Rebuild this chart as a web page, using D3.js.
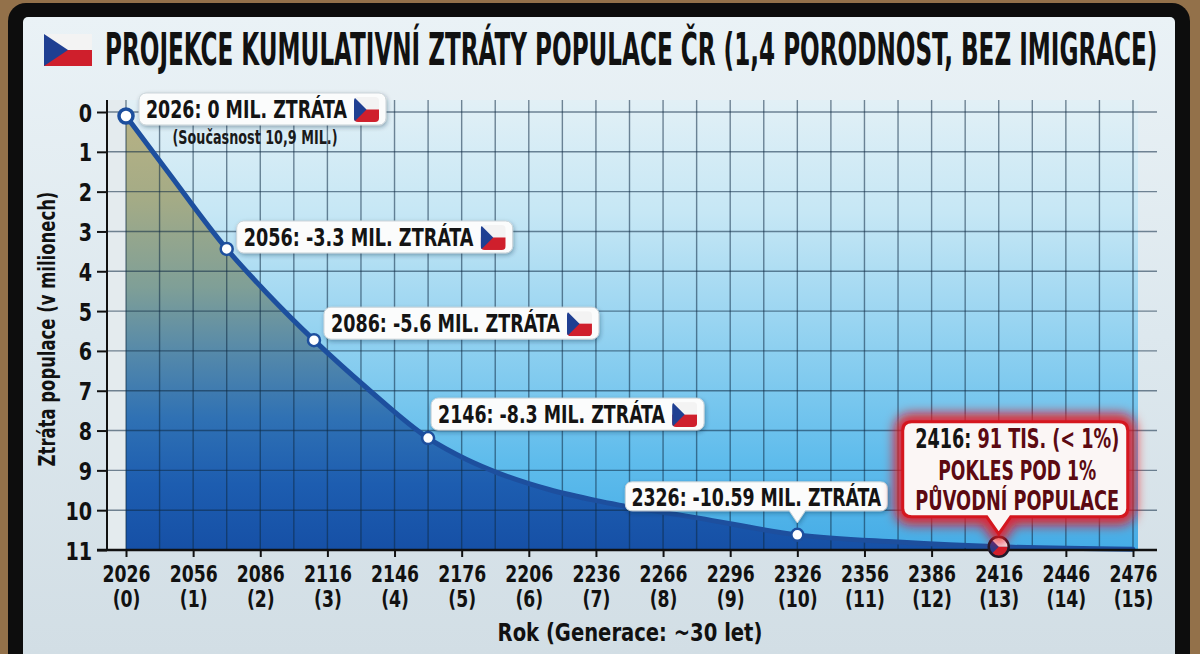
<!DOCTYPE html>
<html>
<head>
<meta charset="utf-8">
<script src="https://cdn.jsdelivr.net/npm/d3@7"></script>
<style>
  body { margin: 0; background: #8f6d44; }
  svg { display: block; }
</style>
</head>
<body>
<svg id="chart" width="1200" height="654"></svg>
<script>
// ---- data ----
const curveYears = [2026, 2044, 2071, 2089, 2110, 2134, 2161, 2178, 2193, 2215, 2238, 2282, 2326, 2371, 2416, 2476];
const curveLoss  = [0.1, 1.45, 3.44, 4.55, 5.73, 6.95, 8.19, 8.72, 9.08, 9.48, 9.78, 10.2, 10.62, 10.8, 10.92, 10.98];

const markerYears = [2026, 2071, 2110, 2161, 2326, 2416];
const markerLoss  = [0.1, 3.44, 5.73, 8.19, 10.62, 10.92];
const markerLabels = [
  '2026: 0 MIL. ZTRÁTA',
  '2056: -3.3 MIL. ZTRÁTA',
  '2086: -5.6 MIL. ZTRÁTA',
  '2146: -8.3 MIL. ZTRÁTA',
  '2326: -10.59 MIL. ZTRÁTA'
];
const currentNote = '(Současnost 10,9 MIL.)';
const finalLines = ['2416: ', '91 TIS. (< 1%)', 'POKLES POD 1%', 'PŮVODNÍ POPULACE'];

const xTicks = [2026, 2056, 2086, 2116, 2146, 2176, 2206, 2236, 2266, 2296, 2326, 2356, 2386, 2416, 2446, 2476];
const genLabels = ['(0)', '(1)', '(2)', '(3)', '(4)', '(5)', '(6)', '(7)', '(8)', '(9)', '(10)', '(11)', '(12)', '(13)', '(14)', '(15)'];
const yTicks = [0, 1, 2, 3, 4, 5, 6, 7, 8, 9, 10, 11];

const titleText = 'PROJEKCE KUMULATIVNÍ ZTRÁTY POPULACE ČR (1,4 PORODNOST, BEZ IMIGRACE)';
const yTitle = 'Ztráta populace (v milionech)';
const xTitle = 'Rok (Generace: ~30 let)';

const FONT = "'Liberation Sans Narrow','Arial Narrow','DejaVu Sans Condensed',sans-serif";

const svg = d3.select('#chart');
const defs = svg.append('defs');

// squeeze a text horizontally to a given width (keeps real bbox)
function fitText(t, x, y, targetW, anchor, rotate) {
    t.attr('x', 0).attr('y', 0).attr('text-anchor', anchor || 'start');
    const s = targetW / t.node().getComputedTextLength();
    t.attr('transform', `translate(${x},${y})${rotate ? ' rotate(' + rotate + ')' : ''} scale(${s},1)`);
    return t;
}
function boldText(parent, size, fill) {
    return parent.append('text')
        .attr('font-family', FONT).attr('font-weight', 'bold')
        .attr('font-size', size).attr('fill', fill || '#141414');
}

// gradients
function linGrad(id, stops, x1, y1, x2, y2) {
    const g = defs.append('linearGradient').attr('id', id)
        .attr('gradientUnits', 'userSpaceOnUse')
        .attr('x1', x1).attr('y1', y1).attr('x2', x2).attr('y2', y2);
    stops.forEach(s => g.append('stop').attr('offset', s[0]).attr('stop-color', s[1]));
}
linGrad('screenGrad', [[0, '#eaf2f6'], [0.5, '#dde8ee'], [1, '#d2dee5']], 0, 17, 0, 654);
linGrad('plotGrad', [[0, '#e2f0f6'], [0.25, '#c6e7f5'], [0.55, '#8ed0f0'], [0.8, '#5fbcec'], [1, '#45ace6']], 0, 100, 0, 550);
linGrad('areaGrad', [[0, '#b8b284'], [0.2, '#a4ab86'], [0.4, '#7f9f97'], [0.55, '#5589aa'], [0.7, '#2f71b4'], [0.85, '#1d5db0'], [1, '#1650a6']], 0, 112, 0, 550);

const shadow = defs.append('filter').attr('id', 'shadow')
    .attr('x', '-10%').attr('y', '-30%').attr('width', '120%').attr('height', '170%');
shadow.append('feDropShadow').attr('dx', 1).attr('dy', 2).attr('stdDeviation', 2)
    .attr('flood-color', '#0a2540').attr('flood-opacity', 0.35);

const glow = defs.append('filter').attr('id', 'redGlow')
    .attr('x', '-30%').attr('y', '-40%').attr('width', '160%').attr('height', '180%');
glow.append('feGaussianBlur').attr('stdDeviation', 6);

// ---- frame ----
svg.append('rect').attr('width', 1200).attr('height', 654).attr('fill', '#93714a');
svg.append('rect').attr('x', 8).attr('y', 3).attr('width', 1182).attr('height', 700)
    .attr('rx', 18).attr('fill', '#0d0d0d');
svg.append('rect').attr('x', 23).attr('y', 17).attr('width', 1152).attr('height', 680)
    .attr('rx', 5).attr('fill', 'url(#screenGrad)');

// ---- title ----
function drawFlag(g, x, y, w, h, id, r) {
    const fg = g.append('g');
    if (id) {
        defs.append('clipPath').attr('id', id)
            .append('rect').attr('x', x).attr('y', y).attr('width', w).attr('height', h).attr('rx', r || 0);
        fg.attr('clip-path', `url(#${id})`);
    }
    fg.append('rect').attr('x', x).attr('y', y).attr('width', w).attr('height', h / 2).attr('fill', '#f3f3f3');
    fg.append('rect').attr('x', x).attr('y', y + h / 2).attr('width', w).attr('height', h / 2).attr('fill', '#cf1f2c');
    fg.append('path').attr('d', `M${x},${y} L${x + w * 0.5},${y + h / 2} L${x},${y + h} Z`).attr('fill', '#1f3f92');
}
drawFlag(svg, 44, 34, 48, 32);

fitText(boldText(svg, 44, '#111').text(titleText), 105, 65, 1053);

// ---- scales ----
const x = d3.scaleLinear().domain([2026, 2476]).range([126, 1133]);
const y = d3.scaleLinear().domain([0, 11]).range([112, 550]);
const axisX = 107;
const plotTop = 100;

// plot background
svg.append('rect').attr('x', x(2026)).attr('y', plotTop)
    .attr('width', x(2476) - x(2026) + 5).attr('height', y(11) - plotTop)
    .attr('fill', 'url(#plotGrad)');
svg.append('rect').attr('x', axisX).attr('y', plotTop)
    .attr('width', x(2026) - axisX).attr('height', y(11) - plotTop)
    .attr('fill', '#e4ebee');

const curveData = curveYears.map((yr, i) => ({ year: yr, loss: curveLoss[i] }));

// area under curve (down to 11)
const area = d3.area()
    .x(d => x(d.year))
    .y0(y(11))
    .y1(d => y(d.loss))
    .curve(d3.curveMonotoneX);
svg.append('path').datum(curveData).attr('d', area).attr('fill', 'url(#areaGrad)');

// grid
const grid = svg.append('g').attr('stroke', '#0e2a44').attr('stroke-opacity', 0.55).attr('stroke-width', 1.4);
grid.selectAll('line.v')
    .data(d3.range(2026, 2477, 15))
    .join('line')
    .attr('x1', d => x(d)).attr('x2', d => x(d))
    .attr('y1', plotTop).attr('y2', y(11));
grid.selectAll('line.h')
    .data(yTicks.slice(0, -1))
    .join('line')
    .attr('x1', axisX).attr('x2', 1157)
    .attr('y1', d => y(d)).attr('y2', d => y(d));

// curve line
const line = d3.line().x(d => x(d.year)).y(d => y(d.loss)).curve(d3.curveMonotoneX);
svg.append('path').datum(curveData).attr('d', line)
    .attr('fill', 'none').attr('stroke', '#1d4f9e').attr('stroke-width', 5)
    .attr('stroke-linecap', 'round');

// ---- axes ----
const TICK_SIZE = 23;
const probe = boldText(svg, TICK_SIZE).text('2026');
const tickScale = 48 / probe.node().getComputedTextLength();
probe.remove();

const xAxis = svg.append('g')
    .attr('transform', `translate(0,${y(11)})`)
    .call(d3.axisBottom(x).tickValues(xTicks).tickSize(7).tickSizeOuter(0));
xAxis.select('.domain').remove();
xAxis.selectAll('.tick line').attr('stroke', '#111').attr('stroke-width', 2);
xAxis.selectAll('.tick text').remove();
xAxis.selectAll('.tick').each(function (d, i) {
    const t = boldText(d3.select(this), TICK_SIZE, '#111').attr('text-anchor', 'middle')
        .attr('transform', `translate(0,32) scale(${tickScale},1)`);
    t.append('tspan').attr('x', 0).attr('y', 0).text(d);
    t.append('tspan').attr('x', 0).attr('y', 25).text(genLabels[i]);
});
svg.append('line').attr('x1', 97).attr('x2', 1157).attr('y1', y(11)).attr('y2', y(11))
    .attr('stroke', '#111').attr('stroke-width', 2.5);

const yAxis = svg.append('g')
    .attr('transform', `translate(${axisX},0)`)
    .call(d3.axisLeft(y).tickValues(yTicks).tickSize(10));
yAxis.select('.domain').remove();
yAxis.selectAll('.tick line').attr('stroke', '#111').attr('stroke-width', 2);
yAxis.selectAll('.tick text').remove();
yAxis.selectAll('.tick').each(function (d) {
    boldText(d3.select(this), 25, '#111').text(d).attr('text-anchor', 'end')
        .attr('transform', `translate(-15,9) scale(0.85,1)`);
});
svg.append('line').attr('x1', axisX).attr('x2', axisX).attr('y1', plotTop).attr('y2', y(11))
    .attr('stroke', '#111').attr('stroke-width', 2);

// axis titles
fitText(boldText(svg, 23, '#111').text(yTitle), 55, (y(0) + y(11)) / 2 - 2, 275, 'middle', -90);
fitText(boldText(svg, 24, '#111').text(xTitle), 630, 641, 265, 'middle');

// ---- markers ----
const markers = markerYears.map((yr, i) => ({ year: yr, loss: markerLoss[i], px: x(yr), py: y(markerLoss[i]) }));

svg.selectAll('circle.marker')
    .data(markers.slice(0, 5))
    .join('circle')
    .attr('cx', d => d.px).attr('cy', d => d.py)
    .attr('r', (d, i) => i === 0 ? 7 : 6)
    .attr('fill', '#fff').attr('stroke', '#1d4f9e').attr('stroke-width', (d, i) => i === 0 ? 3.5 : 2.5);

// flag marker for the last point
const last = markers[5];
defs.append('clipPath').attr('id', 'lastClip')
    .append('circle').attr('cx', last.px).attr('cy', last.py).attr('r', 10);
const lf = svg.append('g').attr('clip-path', 'url(#lastClip)');
drawFlag(lf, last.px - 10, last.py - 10, 20, 20);
svg.append('circle').attr('cx', last.px).attr('cy', last.py).attr('r', 10)
    .attr('fill', 'none').attr('stroke', '#1b1b2b').attr('stroke-width', 2.5);

// ---- callouts ----
function bubble(bx, by, w, h, r, px, tipY, hw) {
    return `M${bx + r},${by} H${bx + w - r} Q${bx + w},${by} ${bx + w},${by + r} V${by + h - r} ` +
        `Q${bx + w},${by + h} ${bx + w - r},${by + h} H${px + hw} L${px},${tipY} L${px - hw},${by + h} ` +
        `H${bx + r} Q${bx},${by + h} ${bx},${by + h - r} V${by + r} Q${bx},${by} ${bx + r},${by} Z`;
}

const layout = [
    { dx: 13, dy: -23, textW: 201 },
    { dx: 10, dy: -28, textW: 230 },
    { dx: 10, dy: -33, textW: 229 },
    { dx: 3, dy: -40, textW: 227 }
];

layout.forEach((l, i) => {
    const m = markers[i];
    const bx = m.px + l.dx, by = m.py + l.dy, h = 32, w = l.textW + 46;
    const g = svg.append('g');
    g.append('rect').attr('x', bx).attr('y', by).attr('width', w).attr('height', h).attr('rx', 7)
        .attr('fill', '#fbfcfc').attr('stroke', '#c9d3d8').attr('stroke-width', 1)
        .attr('filter', 'url(#shadow)');
    fitText(boldText(g, 25).text(markerLabels[i]), bx + 7, by + 25, l.textW);
    drawFlag(g, bx + l.textW + 14, by + 4, 25, 25, 'cflag' + i, 4);
});

// current population note
fitText(boldText(svg, 19, '#1a1a1a').text(currentNote), markers[0].px + 129, markers[0].py + 28, 165, 'middle');

// 2326 callout with pointer
{
    const m = markers[4];
    const w = 262, h = 29, bx = m.px - 41 - w / 2, by = m.py - 53;
    svg.append('path').attr('d', bubble(bx, by, w, h, 7, m.px, m.py - 12, 8))
        .attr('fill', '#fbfcfc').attr('stroke', '#c9d3d8').attr('stroke-width', 1)
        .attr('filter', 'url(#shadow)');
    fitText(boldText(svg, 25).text(markerLabels[4]), bx + w / 2, by + 24, 250, 'middle');
}

// 2416 red callout
{
    const m = markers[5];
    const w = 225, h = 95, bx = m.px - 96, by = m.py - 125;
    const d = bubble(bx, by, w, h, 9, m.px, m.py - 13, 12);
    svg.append('path').attr('d', d).attr('fill', 'none')
        .attr('stroke', '#f2121a').attr('stroke-width', 16).attr('stroke-opacity', 0.9)
        .attr('filter', 'url(#redGlow)');
    svg.append('path').attr('d', d).attr('fill', '#fbf6f5')
        .attr('stroke', '#d5161e').attr('stroke-width', 3);
    const cx = bx + w / 2 + 2;
    const t1 = boldText(svg, 26);
    t1.append('tspan').attr('fill', '#141414').text(finalLines[0]);
    t1.append('tspan').attr('fill', '#5c0a12').text(finalLines[1]);
    fitText(t1, cx, by + 26, 204, 'middle');
    fitText(boldText(svg, 26, '#5c0a12').text(finalLines[2]), cx, by + 58, 158, 'middle');
    fitText(boldText(svg, 26, '#5c0a12').text(finalLines[3]), cx, by + 88, 204, 'middle');
}
</script>
</body>
</html>
